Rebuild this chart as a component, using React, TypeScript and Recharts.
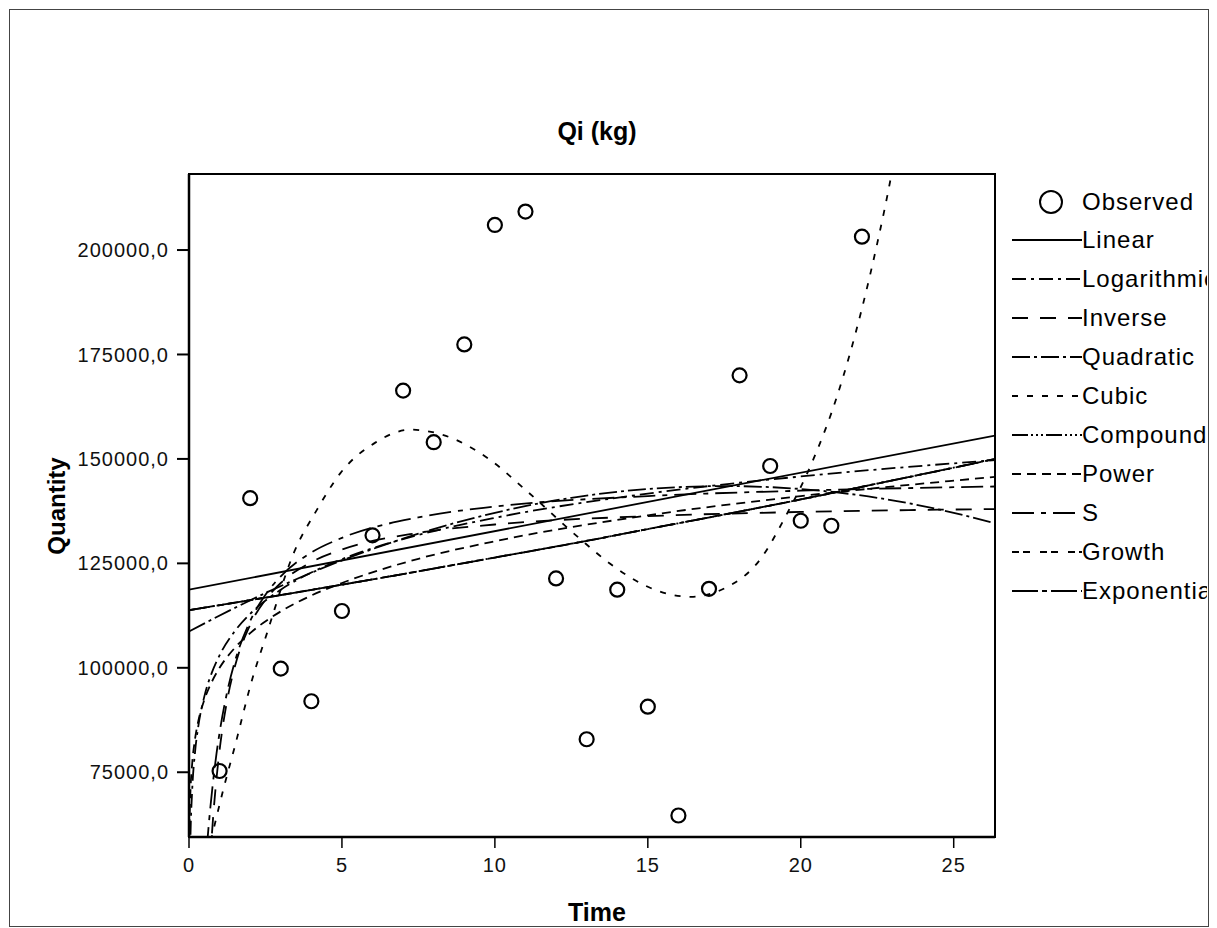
import { ComposedChart, Line, Scatter, XAxis, YAxis, ReferenceArea } from 'recharts';

// observed values (time 1..22)
const obsTime = [1, 2, 3, 4, 5, 6, 7, 8, 9, 10, 11, 12, 13, 14, 15, 16, 17, 18, 19, 20, 21, 22];
const obsQty = [
  75300, 140600, 99800, 92000, 113600, 131700, 166350, 154000, 177400, 206000, 209200,
  121400, 82900, 118700, 90700, 64650, 118900, 170000, 148300, 135200, 134000, 203200,
];

// fitted curves
const linT = [0, 26.35];
const linQ = [118700, 155600];

const logT = [0.02, 0.05, 0.1, 0.2, 0.3, 0.5, 0.75, 1, 1.5, 2, 3, 4, 5, 7.5, 10, 15, 20, 26.35];
const logQ = [47100, 60200, 70100, 80000, 85800, 93100, 98900, 103000, 108800, 112900, 118700, 122800, 126000, 131800, 135900, 141700, 145800, 149700];

const invT = [0.6, 0.7, 0.75, 0.8, 0.9, 1, 1.25, 1.5, 2, 2.5, 3, 4, 5, 7.5, 10, 15, 20, 26.35];
const invQ = [40300, 54600, 60300, 65300, 73600, 80300, 92300, 100300, 110300, 116300, 120300, 125300, 128300, 132300, 134300, 136300, 137300, 138000];

const quadT = [0, 2.5, 5, 7.5, 10, 12.5, 15, 17.5, 20, 22.5, 25, 26.35];
const quadQ = [108700, 117900, 125700, 132100, 137100, 140700, 142800, 143500, 142800, 140700, 137100, 134600];

const cubT = [0.6, 1.13, 1.51, 2.06, 2.55, 3.42, 4.18, 4.95, 6.09, 7.25, 8.32, 9.8, 11, 12.7, 13.9, 15.3, 16.4, 17.5, 18.7, 19.5, 20.4, 21.2, 22, 22.5, 22.95, 23.3];
const cubQ = [55000, 71100, 81500, 97100, 108300, 127400, 137800, 146600, 153900, 157000, 155700, 150000, 142600, 131400, 124200, 118500, 117000, 119000, 126200, 136200, 149700, 165300, 186000, 201600, 217500, 232000];

// compound, growth and exponential coincide
const expT = [0, 2.5, 5, 7.5, 10, 12.5, 15, 17.5, 20, 22.5, 25, 26.35];
const expQ = [113800, 116800, 119900, 123100, 126400, 129700, 133200, 136700, 140300, 144100, 147900, 150000];

const powT = [0.005, 0.01, 0.02, 0.05, 0.1, 0.2, 0.3, 0.5, 0.75, 1, 1.5, 2, 3, 4, 5, 7.5, 10, 15, 20, 26.35];
const powQ = [54400, 58900, 63800, 70900, 76700, 83100, 87100, 92300, 96700, 100000, 104800, 108300, 113500, 117300, 120300, 126100, 130300, 136500, 141100, 145700];

const sT = [0.4, 0.5, 0.6, 0.7, 0.8, 0.9, 1, 1.25, 1.5, 2, 2.5, 3, 4, 5, 7.5, 10, 15, 20, 26.35];
const sQ = [37000, 48700, 58500, 66700, 73600, 79500, 84500, 94300, 101500, 111200, 117500, 121900, 127600, 131100, 136000, 138600, 141100, 142400, 143400];

const xTicks = [0, 5, 10, 15, 20, 25];
const yTicks = [75000, 100000, 125000, 150000, 175000, 200000];

const rows = (ts: number[], qs: number[]) => ts.map((t, i) => ({ t, q: qs[i] }));

const SERIES = [
  { name: 'Linear', data: rows(linT, linQ), dash: undefined as string | undefined },
  { name: 'Logarithmic', data: rows(logT, logQ), dash: '14 5 3 5' },
  { name: 'Inverse', data: rows(invT, invQ), dash: '16 12' },
  { name: 'Quadratic', data: rows(quadT, quadQ), dash: '18 4 3 4' },
  { name: 'Cubic', data: rows(cubT, cubQ), dash: '6 9' },
  { name: 'Compound', data: rows(expT, expQ), dash: '16 3 2 3 2 3 2 3' },
  { name: 'Power', data: rows(powT, powQ), dash: '9 6' },
  { name: 'S', data: rows(sT, sQ), dash: '22 7 5 7' },
  { name: 'Growth', data: rows(expT, expQ), dash: '7 4 7 10' },
  { name: 'Exponential', data: rows(expT, expQ), dash: '26 4 5 4' },
];

const observed = rows(obsTime, obsQty);

const FONT = "'Liberation Sans', Arial, sans-serif";
const TICK = { fill: '#111', fontSize: 20, fontFamily: FONT, letterSpacing: 1 };

const fmtY = (v: number) => `${v.toFixed(0)},0`;

const Ring = (props: any) => (
  <circle cx={props.cx} cy={props.cy} r={7} fill="none" stroke="#000" strokeWidth={2.2} />
);

export default function App() {
  return (
    <div style={{ position: 'relative', width: 1217, height: 928, background: '#fff', overflow: 'hidden' }}>
      <style>{'body{margin:0}'}</style>
      <div
        style={{
          position: 'absolute', left: 9, top: 9, width: 1200, height: 918,
          border: '1.5px solid #444', boxSizing: 'border-box',
        }}
      />
      <div
        style={{
          position: 'absolute', left: 0, width: 1194, top: 117, textAlign: 'center',
          fontFamily: FONT, fontWeight: 'bold', fontSize: 25,
        }}
      >
        Qi (kg)
      </div>
      <div
        style={{
          position: 'absolute', left: 57, top: 506, transform: 'translate(-50%, -50%) rotate(-90deg)',
          fontFamily: FONT, fontWeight: 'bold', fontSize: 24, whiteSpace: 'nowrap',
        }}
      >
        Quantity
      </div>
      <div
        style={{
          position: 'absolute', left: 597, top: 912, transform: 'translate(-50%, -50%)',
          fontFamily: FONT, fontWeight: 'bold', fontSize: 25,
        }}
      >
        Time
      </div>

      <div style={{ position: 'absolute', left: 0, top: 0 }}>
        <ComposedChart width={1217} height={928} margin={{ top: 174, right: 222, bottom: 51, left: 89 }}>
          <XAxis
            dataKey="t"
            type="number"
            domain={[0, 26.35]}
            allowDataOverflow
            ticks={xTicks}
            height={40}
            tick={TICK}
            tickSize={11}
            tickMargin={10}
            axisLine={{ stroke: '#000', strokeWidth: 2.5 }}
            tickLine={{ stroke: '#000', strokeWidth: 1.5 }}
          />
          <YAxis
            dataKey="q"
            type="number"
            domain={[59500, 218200]}
            allowDataOverflow
            ticks={yTicks}
            width={100}
            tick={TICK}
            tickFormatter={fmtY}
            tickSize={12}
            tickMargin={8}
            axisLine={{ stroke: '#000', strokeWidth: 2.5 }}
            tickLine={{ stroke: '#000', strokeWidth: 2 }}
          />
          <ReferenceArea x1={0} x2={26.35} y1={59500} y2={218200} fill="none" stroke="#000" strokeWidth={2} />
          {SERIES.map((s) => (
            <Line
              key={s.name}
              data={s.data}
              dataKey="q"
              type="monotone"
              stroke="#000"
              strokeWidth={1.8}
              strokeDasharray={s.dash}
              dot={false}
              activeDot={false}
              isAnimationActive={false}
            />
          ))}
          <Scatter data={observed} dataKey="q" shape={Ring} isAnimationActive={false} />
        </ComposedChart>
      </div>

      <div
        style={{
          position: 'absolute', left: 1008, top: 183, width: 199, height: 428,
          overflow: 'hidden', fontFamily: FONT, fontSize: 24, letterSpacing: 1,
        }}
      >
        <div style={{ position: 'absolute', top: 0, left: 0, height: 38, display: 'flex', alignItems: 'center', whiteSpace: 'nowrap' }}>
          <svg width={74} height={30}>
            <circle cx={43} cy={15} r={11} fill="none" stroke="#000" strokeWidth={2} />
          </svg>
          <span>Observed</span>
        </div>
        {SERIES.map((s, i) => (
          <div
            key={s.name}
            style={{
              position: 'absolute', top: 38 + i * 39, left: 0, height: 38,
              display: 'flex', alignItems: 'center', whiteSpace: 'nowrap',
            }}
          >
            <svg width={74} height={30}>
              <line x1={4} y1={15} x2={74} y2={15} stroke="#000" strokeWidth={2} strokeDasharray={s.dash} />
            </svg>
            <span>{s.name}</span>
          </div>
        ))}
      </div>
    </div>
  );
}
